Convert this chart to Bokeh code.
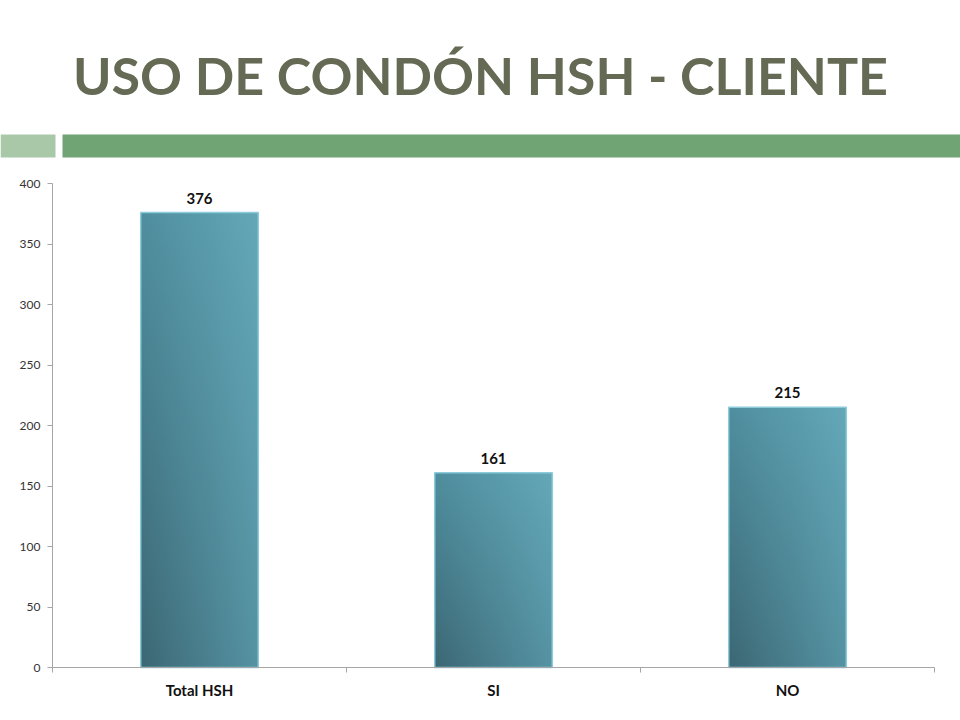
import numpy as np
from bokeh.plotting import figure
from bokeh.models import (ColumnDataSource, Range1d, FixedTicker,
                          LinearAxis, LabelSet)
from bokeh.embed import file_html
from bokeh.resources import INLINE
from bokeh.core.properties import value

# ---------------- data ----------------
title_text = "USO DE CONDÓN HSH - CLIENTE"
categories = ["Total HSH", "SI", "NO"]
counts = [376, 161, 215]
y_ticks = [0, 50, 100, 150, 200, 250, 300, 350, 400]
y_max = 400

# ---------------- layout (canvas pixels) ----------------
W, H = 960, 720
FRAME_L, FRAME_R, FRAME_T, FRAME_B = 52, 934, 183, 667
TITLE_X, TITLE_MID = 480, 74
BAND_TOP, BAND_BOTTOM = 134, 157
LIGHT_BAND = (0, 55)
DARK_BAND = (62, W)

# ---------------- style ----------------
TITLE_COLOR = "#646a54"
LIGHT_GREEN = "#a9c8a7"
DARK_GREEN = "#70a475"
AXIS_COLOR = "#a6a6a6"
FONT = "Lato"

n = len(categories)
centers = [i + 0.5 for i in range(n)]
kx = (FRAME_R - FRAME_L) / n
ky = (FRAME_B - FRAME_T) / y_max

p = figure(width=W, height=H,
           x_range=Range1d(-FRAME_L / kx, n + (W - FRAME_R) / kx),
           y_range=Range1d(-(H - FRAME_B) / ky, y_max + FRAME_T / ky),
           output_backend="svg", toolbar_location=None,
           min_border=0, outline_line_color=None)
p.grid.visible = False
p.extra_x_ranges = {"px": Range1d(0, W)}
p.extra_y_ranges = {"px": Range1d(H, 0)}

# ---------------- header (green band + title) ----------------
p.quad(left=[LIGHT_BAND[0], DARK_BAND[0]], right=[LIGHT_BAND[1], DARK_BAND[1]],
       top=[BAND_TOP, BAND_TOP], bottom=[BAND_BOTTOM, BAND_BOTTOM],
       fill_color=[LIGHT_GREEN, DARK_GREEN], line_color=None,
       x_range_name="px", y_range_name="px")
p.text(x=[TITLE_X], y=[TITLE_MID], text=[title_text], text_align="center",
       text_baseline="middle", text_color=TITLE_COLOR,
       text_font=value(FONT), text_font_style="bold", text_font_size="52px",
       x_range_name="px", y_range_name="px")

# ---------------- axes ----------------
ya = p.yaxis[0]
ya.fixed_location = 0
ya.bounds = (0, y_max)
ya.ticker = FixedTicker(ticks=y_ticks)
ya.axis_line_color = AXIS_COLOR
ya.major_tick_line_color = AXIS_COLOR
ya.major_tick_in = 0
ya.major_tick_out = 5
ya.minor_tick_line_color = None
ya.major_label_text_font = FONT
ya.major_label_text_font_size = "12px"
ya.major_label_text_color = "#333333"
ya.major_label_standoff = 7

edges = list(range(n + 1))
xa = p.xaxis[0]
xa.fixed_location = 0
xa.bounds = (0, n)
xa.ticker = FixedTicker(ticks=edges)
xa.major_label_overrides = {e: "" for e in edges}
xa.axis_line_color = AXIS_COLOR
xa.major_tick_line_color = AXIS_COLOR
xa.major_tick_in = 0
xa.major_tick_out = 5
xa.minor_tick_line_color = None

cat_axis = LinearAxis(ticker=FixedTicker(ticks=centers),
                      major_label_overrides={c: lab for c, lab in zip(centers, categories)})
cat_axis.fixed_location = 0
cat_axis.axis_line_color = None
cat_axis.major_tick_line_color = None
cat_axis.minor_tick_line_color = None
cat_axis.major_label_text_font = FONT
cat_axis.major_label_text_font_style = "bold"
cat_axis.major_label_text_font_size = "15px"
cat_axis.major_label_text_color = "#111111"
cat_axis.major_label_standoff = 7
p.add_layout(cat_axis, "below")

# ---------------- bars: diagonal gradient (dark bottom-left -> light top-right) ----------------
c00 = np.array([0x3c, 0x67, 0x74], float)  # bottom-left
c10 = np.array([0x55, 0x93, 0xa3], float)  # bottom-right
c01 = np.array([0x4f, 0x8e, 0x9e], float)  # top-left
c11 = np.array([0x64, 0xa8, 0xb8], float)  # top-right

GW, GH = 120, 400
u = np.linspace(0, 1, GW)[None, :, None]
w = np.linspace(0, 1, GH)[:, None, None]   # row 0 = bottom of the bar
rgb = (1 - w) * ((1 - u) * c00 + u * c10) + w * ((1 - u) * c01 + u * c11)
rgba = np.empty((GH, GW), dtype=np.uint32)
view = rgba.view(dtype=np.uint8).reshape((GH, GW, 4))
view[:, :, :3] = np.round(rgb).astype(np.uint8)
view[:, :, 3] = 255

BAR_W = 0.4
p.image_rgba(image=[rgba] * n, x=[c - BAR_W / 2 for c in centers], y=[0] * n,
             dw=[BAR_W] * n, dh=counts)

bar_src = ColumnDataSource(dict(x=centers, top=counts, label=[str(v) for v in counts]))
p.vbar(x="x", top="top", bottom=0, width=BAR_W, source=bar_src, fill_color=None,
       line_color="#8ccbd9", line_width=1.5)

labels = LabelSet(x="x", y="top", text="label", source=bar_src,
                  text_align="center", text_baseline="alphabetic", y_offset=9,
                  text_font=value(FONT), text_font_style="bold",
                  text_font_size="15px", text_color="#111111")
p.add_layout(labels)

open("out.html", "w").write(file_html(p, INLINE))
